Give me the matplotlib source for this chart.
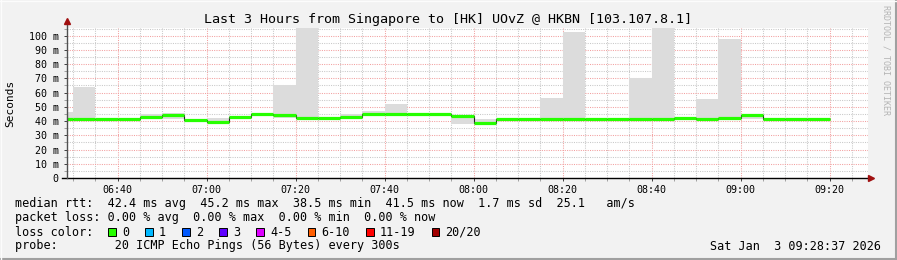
import matplotlib
matplotlib.use("Agg")
import matplotlib.pyplot as plt
from matplotlib.patches import Rectangle
from matplotlib.ticker import MultipleLocator, FixedLocator

# --- data (5 minute steps, start time of each step) ---
step_times = ["06:25", "06:30", "06:35", "06:40", "06:45", "06:50", "06:55",
              "07:00", "07:05", "07:10", "07:15", "07:20", "07:25", "07:30",
              "07:35", "07:40", "07:45", "07:50", "07:55", "08:00", "08:05",
              "08:10", "08:15", "08:20", "08:25", "08:30", "08:35", "08:40",
              "08:45", "08:50", "08:55", "09:00", "09:05", "09:10", "09:15"]
median_ms = [41.7, 41.7, 41.7, 41.7, 42.8, 44.6, 40.9, 39.0, 43.2, 45.2,
             44.6, 42.5, 42.5, 43.2, 45.0, 45.0, 45.0, 45.0, 43.6, 38.5,
             41.7, 41.7, 41.7, 41.7, 41.7, 41.7, 41.7, 41.7, 42.5, 41.7,
             42.5, 44.3, 41.7, 41.7, 41.5]
smoke_lo = [41.0, 41.0, 41.2, 41.2, 42.0, 41.8, 40.4, 38.5, 42.7, 44.8,
            42.0, 42.0, 42.0, 42.7, 44.5, 44.5, 44.5, 44.5, 37.8, 38.0,
            41.2, 41.2, 41.2, 41.2, 41.2, 41.2, 41.2, 41.2, 42.0, 41.2,
            42.0, 41.8, 41.2, 41.2, 41.0]
smoke_hi = [46.3, 63.6, 42.3, 42.3, 45.0, 45.5, 41.5, 42.5, 43.8, 45.7,
            65.4, 120.0, 43.0, 45.0, 47.1, 52.2, 45.5, 45.5, 44.0, 41.8,
            42.2, 42.2, 56.2, 102.6, 42.2, 42.2, 70.2, 120.0, 43.0, 55.5,
            97.7, 44.8, 42.2, 42.2, 42.0]

y_ticks = [0, 10, 20, 30, 40, 50, 60, 70, 80, 90, 100]
y_labels = ["0", "10 m", "20 m", "30 m", "40 m", "50 m", "60 m", "70 m",
            "80 m", "90 m", "100 m"]
x_labels = ["06:40", "07:00", "07:20", "07:40", "08:00", "08:20", "08:40",
            "09:00", "09:20"]
loss_labels = ["0", "1", "2", "3", "4-5", "6-10", "11-19", "20/20"]
loss_colors = ["#26ff00", "#00b8ff", "#0059ff", "#5e00ff", "#dd00ff",
               "#ff5e00", "#ff0000", "#a10000"]

title = "Last 3 Hours from Singapore to [HK] UOvZ @ HKBN [103.107.8.1]"
stats_rtt = ("median rtt:  42.4 ms avg  45.2 ms max  38.5 ms min  "
             "41.5 ms now  1.7 ms sd  25.1   am/s")
stats_loss = "packet loss: 0.00 % avg  0.00 % max  0.00 % min  0.00 % now"
probe_txt = "probe:        20 ICMP Echo Pings (56 Bytes) every 300s"
date_txt = "Sat Jan  3 09:28:37 2026"


def to_min(s):
    h, m = s.split(":")
    return (int(h) - 6) * 60 + int(m)


starts = [to_min(t) for t in step_times]
ends = [s + 5 for s in starts]
edges = starts + [ends[-1]]
x_ticks = [to_min(t) for t in x_labels]

W, H = 897, 260
fig = plt.figure(figsize=(W / 100, H / 100), dpi=100, facecolor="#f2f2f2")
mono = "DejaVu Sans Mono"

# plot area in pixels: x 67..868, y 28..178
ax = fig.add_axes([67 / W, 1 - 178 / H, (868 - 67) / W, (178 - 28) / H])
ax.set_facecolor("white")
t0 = 28 + 37 / 60
ax.set_xlim(t0, t0 + 180)
ax.set_ylim(0, 105.4)

# grid
ax.xaxis.set_major_locator(FixedLocator(x_ticks))
ax.xaxis.set_minor_locator(MultipleLocator(5))
ax.yaxis.set_major_locator(FixedLocator(y_ticks))
ax.yaxis.set_minor_locator(MultipleLocator(5))
ax.grid(True, which="minor", color="#c8c8c8", lw=0.75, ls=(0, (1, 1.2)))
ax.grid(True, which="major", color="#f2a0a0", lw=0.75, ls=(0, (1, 1.2)))
ax.set_axisbelow(True)

# smoke
heights = [h - l for h, l in zip(smoke_hi, smoke_lo)]
ax.bar(starts, heights, bottom=smoke_lo, width=5, align="edge",
       color="#dcdcdc", lw=0, zorder=2)

# median
ax.stairs(median_ms, edges, color="#202020", lw=0.8, baseline=None, zorder=3)
ax.hlines(median_ms, starts, ends, color="#26ff00", lw=2.3, zorder=4,
          capstyle="butt")

# axes decorations
for s in ax.spines.values():
    s.set_visible(False)
ax.plot([-5 / 801, 1.003], [0, 0], color="black", lw=1,
        transform=ax.transAxes, clip_on=False, zorder=5)
ax.plot([0, 0], [0, 1.04], color="#505050", lw=1,
        transform=ax.transAxes, clip_on=False, zorder=5)
ax.plot([1.004], [0], marker=">", ms=5, color="#a01010", mec="#a01010",
        transform=ax.transAxes, clip_on=False, zorder=6)
ax.plot([0], [1.045], marker="^", ms=5, color="#a01010", mec="#a01010",
        transform=ax.transAxes, clip_on=False, zorder=6)

ax.set_xticklabels(x_labels, fontfamily=mono, fontsize=7.2)
ax.set_yticklabels(y_labels, fontfamily=mono, fontsize=7.2)
ax.tick_params(axis="both", which="major", length=2, width=0.7,
               color="#404040", pad=3)
ax.tick_params(axis="y", which="major", pad=4)
ax.tick_params(axis="both", which="minor", length=2, width=0.5,
               color="#808080")


def ftext(x, y, s, **kw):
    fig.text(x / W, 1 - y / H, s, fontfamily=mono, **kw)


ftext(448, 19, title, fontsize=9.6, ha="center", va="center")
ftext(10, 103, "Seconds", fontsize=8, rotation=90, ha="center", va="center")
ftext(886, 60, "RRDTOOL / TOBI OETIKER", fontsize=6, rotation=270,
      ha="center", va="center", color="#b4b4b4")

ftext(15, 204, stats_rtt, fontsize=8.5, va="center")
ftext(15, 218, stats_loss, fontsize=8.5, va="center")
ftext(15, 232, "loss color:", fontsize=8.5, va="center")
ftext(15, 246, probe_txt, fontsize=8.5, va="center")
ftext(881, 246, date_txt, fontsize=8.5, va="center", ha="right")

sx = 108.3
for lab, col in zip(loss_labels, loss_colors):
    fig.add_artist(Rectangle((sx / W, 1 - 236 / H), 7.7 / W, 7.7 / H,
                             transform=fig.transFigure, facecolor=col,
                             edgecolor="black", lw=0.7))
    ftext(sx + 13.5, 232, lab, fontsize=8.5, va="center")
    sx += (len(lab) + 4.2) * 7.12

# frame shading
fig.add_artist(plt.Line2D([0, 1], [1 / H, 1 / H], color="#a0a0a0", lw=1.5,
                          transform=fig.transFigure))
fig.add_artist(plt.Line2D([1 - 1 / W, 1 - 1 / W], [0, 1], color="#a0a0a0",
                          lw=1.5, transform=fig.transFigure))
fig.add_artist(plt.Line2D([0, 1], [1 - 0.5 / H, 1 - 0.5 / H], color="#fcfcfc",
                          lw=1, transform=fig.transFigure))
fig.add_artist(plt.Line2D([0.5 / W, 0.5 / W], [0, 1], color="#fcfcfc", lw=1,
                          transform=fig.transFigure))

fig.savefig("out.png", dpi=100, facecolor=fig.get_facecolor())
